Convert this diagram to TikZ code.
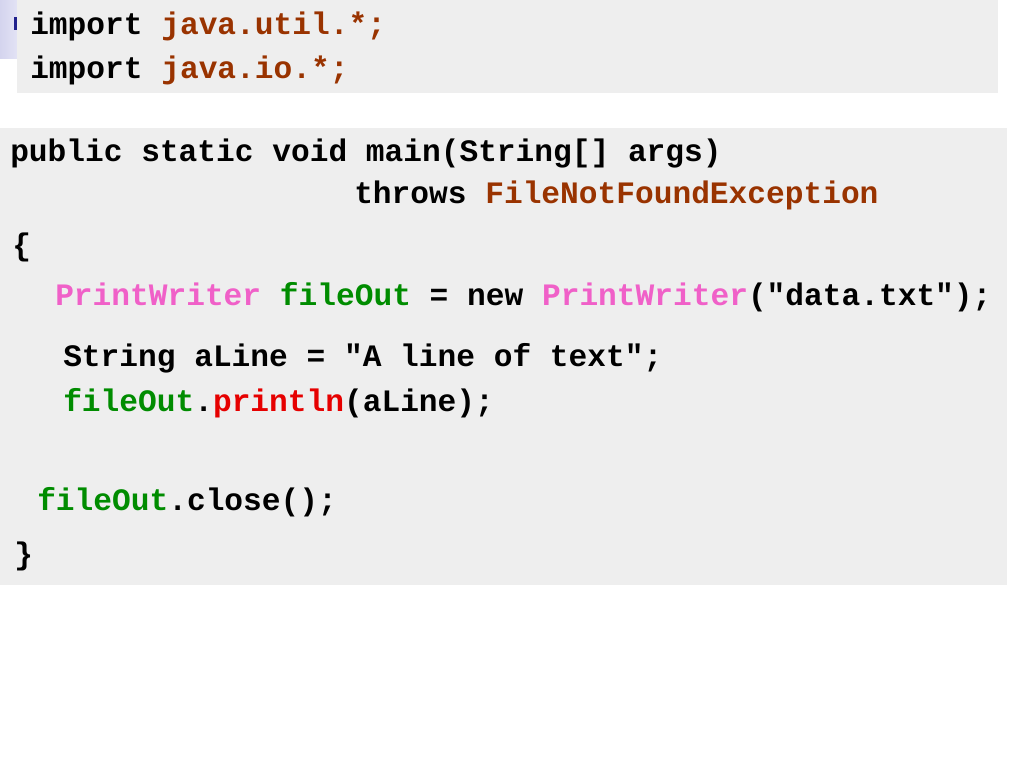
\documentclass[tikz,border=0pt]{standalone}
\usepackage{fontspec}
\setmonofont{Liberation Mono}
\usepackage{tikz}

\definecolor{kwbrown}{RGB}{153,51,0}
\definecolor{clspink}{RGB}{240,96,200}
\definecolor{vargreen}{RGB}{0,140,0}
\definecolor{mthred}{RGB}{230,0,0}
\definecolor{boxgray}{RGB}{238,238,238}
\definecolor{bulletblue}{RGB}{32,32,140}

\tikzset{codeline/.style={anchor=base west,inner sep=0pt,
  font=\fontsize{23.4pt}{28pt}\selectfont\ttfamily\bfseries}}

\begin{document}
\begin{tikzpicture}[x=0.75pt,y=0.75pt,yscale=-1,xscale=1]
\useasboundingbox (0,0) rectangle (1024,768);

%Shape: Shade band [id:bg1]
\shade[left color={rgb,255:red,212;green,212;blue,238},right color={rgb,255:red,238;green,238;blue,250}] (0,0) rectangle (30,58) ;
%Shape: Bullet [id:bul1]
\fill[bulletblue] (14,17) rectangle (16.5,30) ;
%Shape: Rectangle [id:box1]
\fill[boxgray] (17,0) rectangle (998,93) ;
%Shape: Rectangle [id:box2]
\fill[boxgray] (0,128) rectangle (1007,585) ;

% Text Node
\node[codeline] (imp1) at (30,34) {import \textcolor{kwbrown}{java.util.*;}};
% Text Node
\node[codeline] (imp2) at (30,78) {import \textcolor{kwbrown}{java.io.*;}};

% Text Node
\node[codeline] (sig) at (10,161) {public static void main(String[] args)};
% Text Node
\node[codeline] (thr) at (354,203) {throws \textcolor{kwbrown}{FileNotFoundException}};
% Text Node
\node[codeline] (lbr) at (12,255) {\{};
% Text Node
\node[codeline] (pw) at (55,305) {\textcolor{clspink}{PrintWriter} \textcolor{vargreen}{fileOut} = new \textcolor{clspink}{PrintWriter}("data.txt");};
% Text Node
\node[codeline] (str) at (63,366) {String aLine = "A line of text";};
% Text Node
\node[codeline] (prt) at (63,411) {\textcolor{vargreen}{fileOut}.\textcolor{mthred}{println}(aLine);};
% Text Node
\node[codeline] (cls) at (37,510) {\textcolor{vargreen}{fileOut}.close();};
% Text Node
\node[codeline] (rbr) at (14,564) {\}};

\end{tikzpicture}
\end{document}
